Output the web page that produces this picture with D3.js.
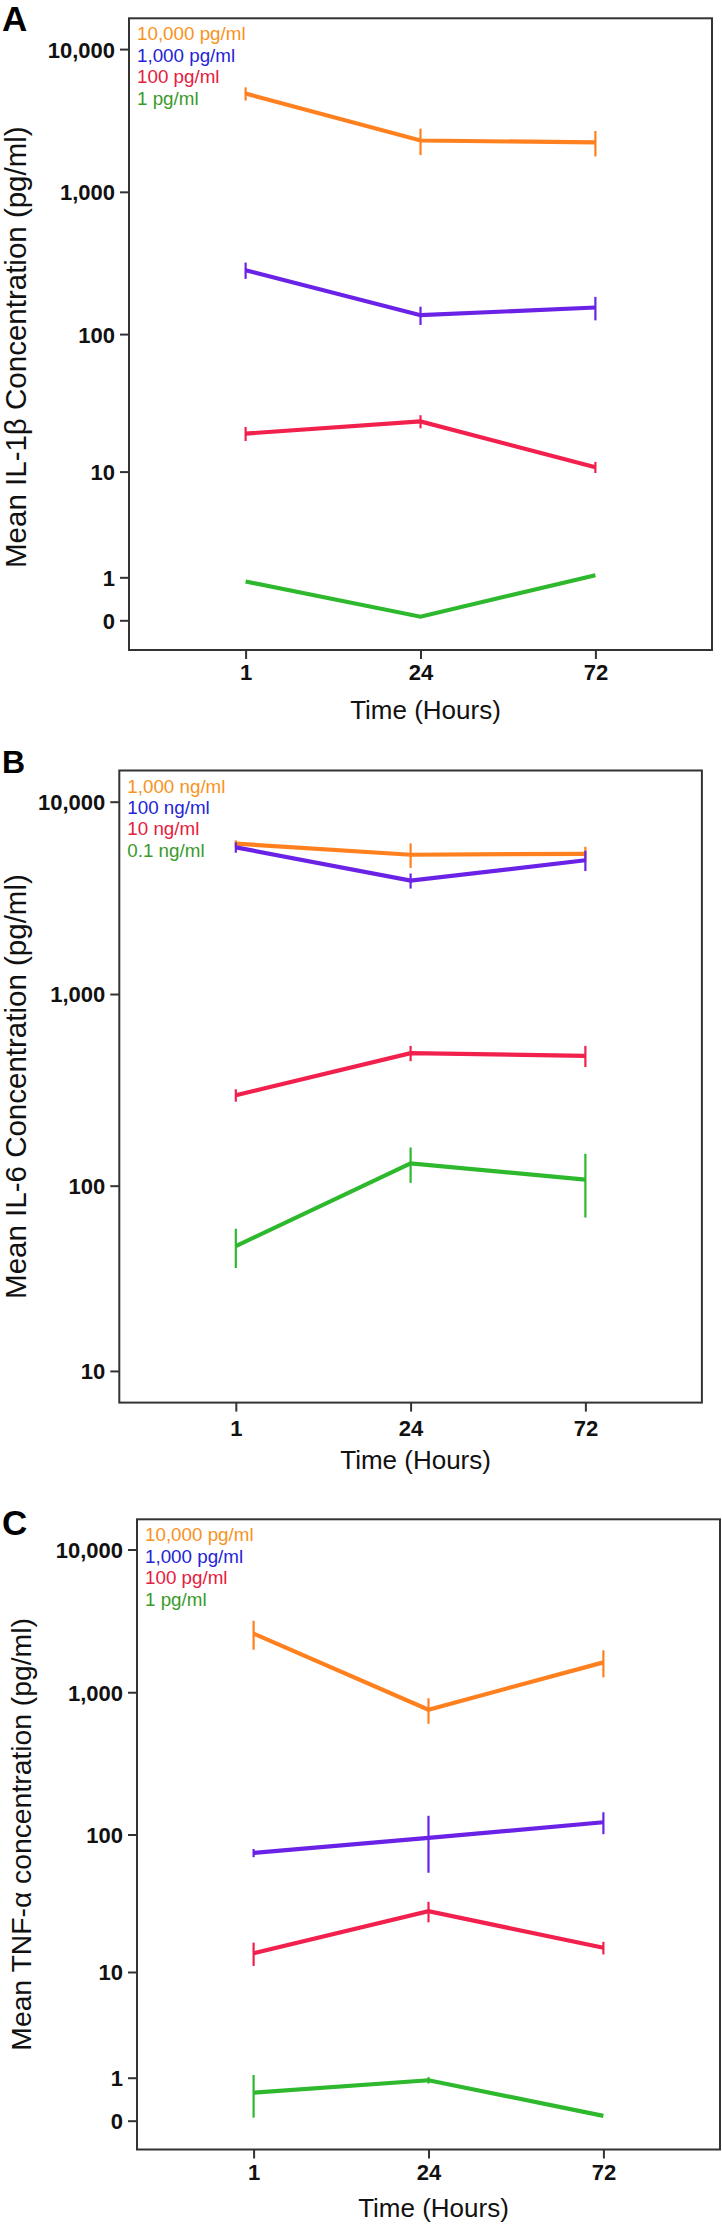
<!DOCTYPE html>
<html>
<head>
<meta charset="utf-8">
<script src="https://cdn.jsdelivr.net/npm/d3@7"></script>
<style>
  html, body { margin: 0; padding: 0; background: #fff; }
  svg { display: block; }
  text { font-family: "Liberation Sans", Arial, Helvetica, sans-serif; }
</style>
</head>
<body>
<svg id="chart" width="722" height="2226"></svg>
<script>
// ---------------- DATA ----------------
const timeCategories = ["1", "24", "72"];

// Panel A: IL-1β
const il1bLegend = ["10,000 pg/ml", "1,000 pg/ml", "100 pg/ml", "1 pg/ml"];
const il1bMeans = [
  [4880, 2290, 2220],
  [282, 136, 154],
  [19.3, 23.7, 10.8],
  [0.87, 0.06, 1.07]
];
const il1bErrors = [
  [520, 480, 450],
  [37, 20, 29],
  [2.3, 2.6, 1.05],
  [0, 0, 0]
];

// Panel B: IL-6
const il6Legend = ["1,000 ng/ml", "100 ng/ml", "10 ng/ml", "0.1 ng/ml"];
const il6Means = [
  [6050, 5300, 5360],
  [5790, 3885, 4960],
  [297, 492, 477],
  [48, 131, 107.5]
];
const il6Errors = [
  [250, 770, 470],
  [360, 350, 600],
  [22, 45, 60],
  [11.3, 27.5, 39.5]
];

// Panel C: TNF-α
const tnfLegend = ["10,000 pg/ml", "1,000 pg/ml", "100 pg/ml", "1 pg/ml"];
const tnfMeans = [
  [2577, 754, 1620],
  [74, 94.5, 122],
  [13.9, 28.3, 15.25],
  [0.57, 0.92, 0.08]
];
const tnfErrors = [
  [592, 153, 349],
  [4.9, 41, 21.5],
  [2.77, 4.8, 1.65],
  [0.52, 0.1, 0]
];

const ticksAC = [0, 1, 10, 100, 1000, 10000];
const ticksB = [10, 100, 1000, 10000];

const panelLetters = ["A", "B", "C"];
const yTitles = [
  "Mean IL-1\u03b2 Concentration (pg/ml)",
  "Mean IL-6 Concentration (pg/ml)",
  "Mean TNF-\u03b1 concentration (pg/ml)"
];
const xTitle = "Time (Hours)";

// ---------------- STYLE ----------------
const lineColors = ["#FF801F", "#6A22E6", "#F2204C", "#2DB82D"];
const legendColors = ["#F7931E", "#2424D8", "#E5203E", "#3A9A2C"];

// layout per panel
const layouts = [
  { left: 129, top: 18.3, w: 583, h: 631.7, y0: 602, dec: 142.8, ticks: ticksAC,
    legend: il1bLegend, means: il1bMeans, errors: il1bErrors,
    titleSize: 29.5, titleX: 26, titleShift: 13, letterY: 31, letterSize: 35,
    xTickPad: 5, xTitleOff: 69 },
  { left: 119.3, top: 770.5, w: 582.6, h: 632.1, y0: 800.8, dec: 192.4, ticks: ticksB,
    legend: il6Legend, means: il6Means, errors: il6Errors,
    titleSize: 29.5, titleX: 25.5, titleShift: 0, letterY: 773, letterSize: 32,
    xTickPad: 8.5, xTitleOff: 66.6 },
  { left: 137, top: 1519.3, w: 583, h: 630.2, y0: 601.4, dec: 142.8, ticks: ticksAC,
    legend: tnfLegend, means: tnfMeans, errors: tnfErrors,
    titleSize: 28.3, titleX: 31, titleShift: 0, letterY: 1535, letterSize: 35,
    xTickPad: 6, xTitleOff: 67 }
];

const svg = d3.select("#chart");
svg.append("rect").attr("width", 722).attr("height", 2226).attr("fill", "#fff");

const fmt = d3.format(",");

layouts.forEach((L, pi) => {
  const g = svg.append("g");
  const x = d3.scalePoint().domain(timeCategories)
    .range([L.left, L.left + L.w]).padding(2 / 3);
  const y = d3.scaleSymlog().constant(1).domain([0, 10000])
    .range([L.top + L.y0, L.top + L.y0 - 4 * L.dec]);

  // panel letter
  g.append("text").attr("x", 2).attr("y", L.letterY)
    .attr("font-size", L.letterSize).attr("font-weight", "bold")
    .attr("fill", "#000").text(panelLetters[pi]);

  // y axis
  const ya = g.append("g").attr("transform", `translate(${L.left},0)`)
    .call(d3.axisLeft(y).tickValues(L.ticks).tickFormat(fmt).tickSize(9).tickPadding(5));
  ya.select(".domain").remove();
  ya.selectAll(".tick line").attr("stroke", "#333").attr("stroke-width", 2);
  ya.selectAll(".tick text").attr("font-size", 22).attr("font-weight", "bold")
    .attr("fill", "#111").attr("font-family", "'Liberation Sans', Arial, sans-serif")
    .attr("dy", "0.36em");

  // x axis
  const xa = g.append("g").attr("transform", `translate(0,${L.top + L.h})`)
    .call(d3.axisBottom(x).tickSize(9).tickPadding(L.xTickPad));
  xa.select(".domain").remove();
  xa.selectAll(".tick line").attr("stroke", "#333").attr("stroke-width", 2);
  xa.selectAll(".tick text").attr("font-size", 22).attr("font-weight", "bold")
    .attr("fill", "#111").attr("font-family", "'Liberation Sans', Arial, sans-serif");

  // box
  g.append("rect").attr("x", L.left).attr("y", L.top)
    .attr("width", L.w).attr("height", L.h)
    .attr("fill", "none").attr("stroke", "#333").attr("stroke-width", 2);

  // series
  const line = d3.line().x((d, i) => x(timeCategories[i])).y(d => y(d));
  L.means.forEach((vals, si) => {
    const col = lineColors[si];
    g.append("path").datum(vals).attr("d", line)
      .attr("fill", "none").attr("stroke", col).attr("stroke-width", 4.2)
      .attr("stroke-linejoin", "miter");
    vals.forEach((v, i) => {
      const e = L.errors[si][i];
      if (e > 0) {
        g.append("line")
          .attr("x1", x(timeCategories[i])).attr("x2", x(timeCategories[i]))
          .attr("y1", y(v + e)).attr("y2", y(v - e))
          .attr("stroke", col).attr("stroke-width", 2.2);
      }
    });
  });

  // legend
  L.legend.forEach((lab, si) => {
    g.append("text").attr("x", L.left + 8).attr("y", L.top + 22 + si * 21.4)
      .attr("font-size", 18.8).attr("fill", legendColors[si]).text(lab);
  });

  // x title
  g.append("text").attr("x", L.left + L.w / 2 + 5).attr("y", L.top + L.h + L.xTitleOff)
    .attr("text-anchor", "middle").attr("font-size", 26).attr("fill", "#111")
    .text(xTitle);

  // y title
  const cy = L.top + L.h / 2 + L.titleShift;
  g.append("text").attr("transform", `translate(${L.titleX},${cy}) rotate(-90)`)
    .attr("text-anchor", "middle").attr("font-size", L.titleSize).attr("fill", "#111")
    .text(yTitles[pi]);
});
</script>
</body>
</html>
